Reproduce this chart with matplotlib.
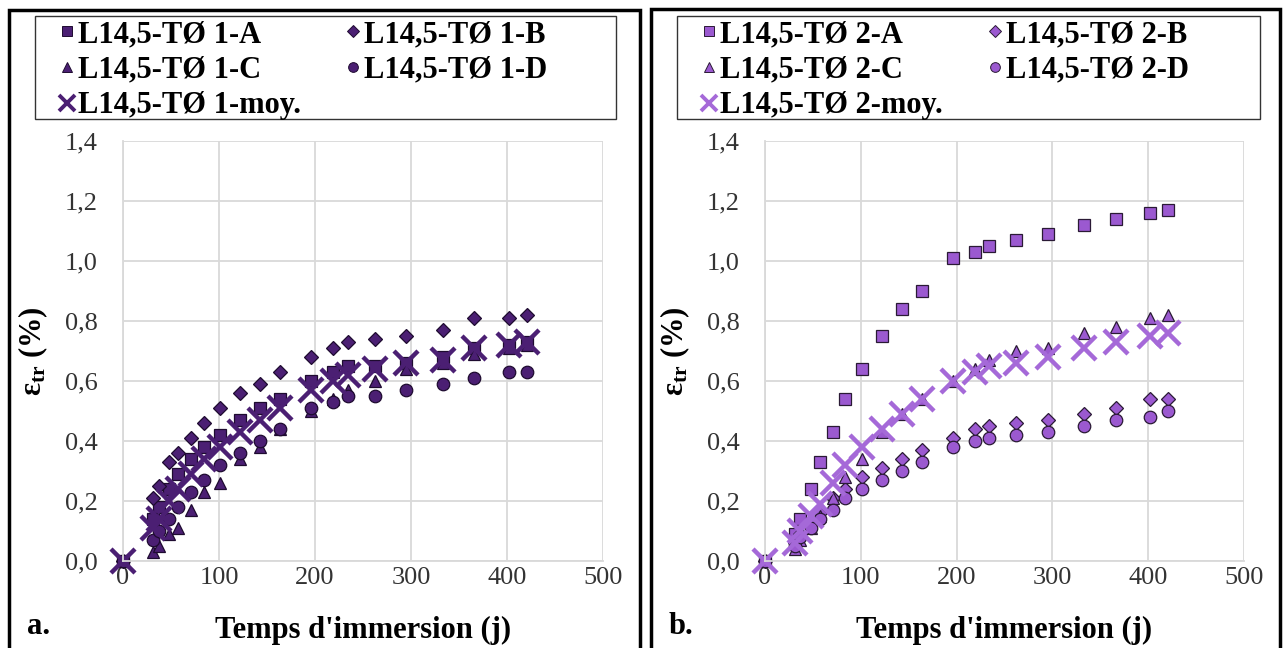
import matplotlib
matplotlib.use("Agg")
import matplotlib.pyplot as plt
from matplotlib.patches import Rectangle
from matplotlib.lines import Line2D
from matplotlib.ticker import FuncFormatter, MultipleLocator

plt.rcParams['font.family'] = ['Liberation Serif', 'DejaVu Serif']
plt.rcParams['mathtext.fontset'] = 'custom'
plt.rcParams['mathtext.rm'] = 'Liberation Serif:bold'
plt.rcParams['mathtext.it'] = 'Liberation Serif:bold'
plt.rcParams['mathtext.bf'] = 'Liberation Serif:bold'

# ---- data ----
days = [0, 31, 37, 48, 57, 71, 84, 101, 122, 143, 164, 196, 219, 234, 262, 295, 333, 366, 402, 421]

p1_A = [0, 0.14, 0.18, 0.24, 0.29, 0.34, 0.38, 0.42, 0.47, 0.51, 0.54, 0.60, 0.63, 0.65, 0.65, 0.66, 0.68, 0.71, 0.72, 0.73]
p1_B = [0, 0.21, 0.25, 0.33, 0.36, 0.41, 0.46, 0.51, 0.56, 0.59, 0.63, 0.68, 0.71, 0.73, 0.74, 0.75, 0.77, 0.81, 0.81, 0.82]
p1_C = [0, 0.03, 0.05, 0.09, 0.11, 0.17, 0.23, 0.26, 0.34, 0.38, 0.44, 0.50, 0.54, 0.57, 0.60, 0.64, 0.66, 0.69, 0.71, 0.72]
p1_D = [0, 0.07, 0.10, 0.14, 0.18, 0.23, 0.27, 0.32, 0.36, 0.40, 0.44, 0.51, 0.53, 0.55, 0.55, 0.57, 0.59, 0.61, 0.63, 0.63]
p1_M = [0, 0.11, 0.14, 0.20, 0.24, 0.29, 0.34, 0.38, 0.43, 0.47, 0.51, 0.57, 0.60, 0.62, 0.64, 0.66, 0.67, 0.71, 0.72, 0.73]

p2_A = [0, 0.09, 0.14, 0.24, 0.33, 0.43, 0.54, 0.64, 0.75, 0.84, 0.90, 1.01, 1.03, 1.05, 1.07, 1.09, 1.12, 1.14, 1.16, 1.17]
p2_B = [0, 0.06, 0.09, 0.13, 0.16, 0.21, 0.24, 0.28, 0.31, 0.34, 0.37, 0.41, 0.44, 0.45, 0.46, 0.47, 0.49, 0.51, 0.54, 0.54]
p2_C = [0, 0.04, 0.07, 0.11, 0.15, 0.21, 0.28, 0.34, 0.43, 0.49, 0.54, 0.60, 0.64, 0.67, 0.70, 0.71, 0.76, 0.78, 0.81, 0.82]
p2_D = [0, 0.05, 0.08, 0.11, 0.14, 0.17, 0.21, 0.24, 0.27, 0.30, 0.33, 0.38, 0.40, 0.41, 0.42, 0.43, 0.45, 0.47, 0.48, 0.50]
p2_M = [0, 0.06, 0.10, 0.15, 0.19, 0.26, 0.32, 0.38, 0.44, 0.49, 0.54, 0.60, 0.63, 0.65, 0.66, 0.68, 0.71, 0.73, 0.75, 0.76]

labels1 = ['L14,5-TØ 1-A', 'L14,5-TØ 1-B', 'L14,5-TØ 1-C', 'L14,5-TØ 1-D', 'L14,5-TØ 1-moy.']
labels2 = ['L14,5-TØ 2-A', 'L14,5-TØ 2-B', 'L14,5-TØ 2-C', 'L14,5-TØ 2-D', 'L14,5-TØ 2-moy.']

dark = '#4B1F73'
light = '#9B59D0'
light_x = '#A569D8'

W, H = 1283, 648
fig = plt.figure(figsize=(W / 100, H / 100), dpi=100)

fmt = FuncFormatter(lambda v, p: f"{v:.1f}".replace('.', ','))

def fx(px):
    return px / W

def fy(py):
    return 1 - py / H

def make_panel(left_px, right_px, series, labels, face, edge, xcol, letter, box_px):
    ax = fig.add_axes([fx(left_px), fy(561), (right_px - left_px) / W, (561 - 141) / H])
    ax.set_xlim(0, 500)
    ax.set_ylim(0, 1.4)
    ax.xaxis.set_major_locator(MultipleLocator(100))
    ax.yaxis.set_major_locator(MultipleLocator(0.2))
    ax.yaxis.set_major_formatter(fmt)
    ax.grid(True, color='#D9D9D9', lw=1.3)
    ax.set_axisbelow(True)
    for s in ['top', 'right']:
        ax.spines[s].set_visible(False)
    for s in ['left', 'bottom']:
        ax.spines[s].set_color('#D9D9D9')
        ax.spines[s].set_linewidth(1.3)
    ax.tick_params(length=0, labelsize=19, colors='#333333')
    ax.tick_params(axis='x', pad=4)
    ax.tick_params(axis='y', pad=18)
    markers = ['s', 'D', '^', 'o']
    sizes = [8.5, 7.5, 9, 9]
    for ys, m, ms in zip(series[:4], markers, sizes):
        ax.plot(days, ys, ls='none', marker=m, ms=ms, mfc=face, mec=edge, mew=0.9, clip_on=False)
    ax.plot(days, series[4], ls='none', marker='x', ms=17, mec=xcol, mew=3.2, clip_on=False)
    ax.set_xlabel("Temps d'immersion (j)", fontsize=22, fontweight='bold', labelpad=20)
    ax.set_ylabel('ε$_{\\mathrm{tr}}$ (%)', fontsize=22, fontweight='bold', labelpad=11)

    # legend proxies
    lsizes = [6.5, 6.0, 7.5, 7.0]
    handles = [Line2D([], [], ls='none', marker=m, ms=s, mfc=face, mec=edge, mew=0.7)
                for m, s in zip(markers, lsizes)]
    handles.append(Line2D([], [], ls='none', marker='x', ms=12, mec=xcol, mew=2.8))
    order = [0, 2, 4, 1, 3]
    bx0, by0, bx1, by1 = box_px
    fig.legend([handles[i] for i in order], [labels[i] for i in order],
               loc='upper left', bbox_to_anchor=(fx(bx0 + 27), fy(by0 + 4)),
               ncol=2, frameon=False, borderaxespad=0, borderpad=0,
               prop={'weight': 'bold', 'size': 22},
               handlelength=0.3, handletextpad=0.22, columnspacing=1.55,
               labelspacing=0.22)
    fig.add_artist(Rectangle((fx(bx0), fy(by1)), (bx1 - bx0) / W, (by1 - by0) / H,
                             transform=fig.transFigure, fill=False, ec='#333333', lw=1.0))
    fig.text(fx(left_px - 96), fy(626), letter, fontsize=22, fontweight='bold', va='center')
    return ax

make_panel(123, 603, [p1_A, p1_B, p1_C, p1_D, p1_M], labels1, dark, '#1E0B30', dark, 'a.', (35, 16, 616, 119))
make_panel(765, 1244, [p2_A, p2_B, p2_C, p2_D, p2_M], labels2, light, '#2A1A35', light_x, 'b.', (677, 16, 1260, 119))

# panel borders
fig.add_artist(Rectangle((fx(9), -0.01), (640 - 9) / W, 1 - 10 / H + 0.01, transform=fig.transFigure,
                         fill=False, ec='black', lw=2.5))
fig.add_artist(Rectangle((fx(651), -0.01), (1280 - 651) / W, 1 - 9 / H + 0.01, transform=fig.transFigure,
                         fill=False, ec='black', lw=2.5))

fig.savefig('out.png', dpi=100, facecolor='white')
